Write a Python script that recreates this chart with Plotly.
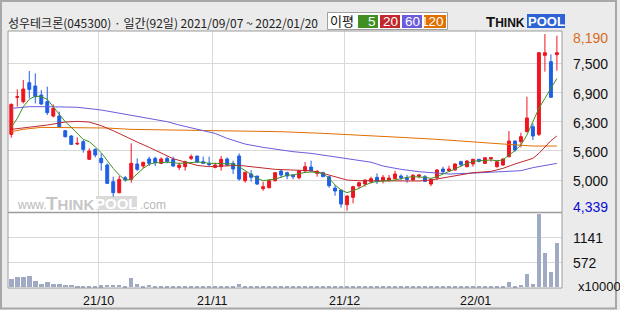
import plotly.graph_objects as go

# ---------------- data ----------------
opens = [5980,6772,6679,7085,7014,6822,6679,6372,6372,6059,
         5945,5774,5823,5446,5659,5467,5324,4968,4733,5053,
         5018,5346,5303,5453,5467,5360,5467,5446,5274,5289,
         5467,5517,5396,5360,5274,5289,5453,5360,5517,4989,
         5132,5089,4818,4839,4989,5196,5160,5110,5053,5196,
         5282,5146,5160,5075,4832,4790,4476,4633,4875,4918,
         4968,5061,4989,4989,5032,5089,5046,5004,5082,5075,
         4918,5054,5239,5203,5218,5396,5289,5346,5446,5360,
         5460,5289,5325,5503,5838,5824,6038,6144,5980,7670,
         7535,7684]
highs = [6643,6943,7142,7335,7285,6929,7000,6622,6465,6073,
         5966,5916,5859,5681,5681,5574,5360,5075,5089,5089,
         5788,5467,5396,5503,5503,5488,5503,5503,5374,5417,
         5552,5517,5503,5503,5374,5517,5488,5417,5574,5182,
         5217,5089,4968,5018,5175,5232,5182,5125,5217,5388,
         5417,5217,5182,5089,4897,4790,4675,4882,4968,5018,
         5075,5146,5111,5111,5203,5125,5111,5132,5132,5111,
         5032,5239,5289,5310,5360,5417,5431,5460,5453,5481,
         5488,5417,5467,6052,5845,6016,6786,6216,7734,8126,
         7692,8091]
lows = [5909,6572,6643,6750,6643,6608,6394,6344,6130,5916,
        5752,5752,5588,5431,5488,5203,4918,4647,4718,4968,
        4946,5196,5253,5303,5303,5346,5360,5289,5217,5203,
        5431,5374,5346,5303,5253,5203,5303,5132,4989,4946,
        4968,4897,4775,4825,4975,5061,5018,5018,5018,5182,
        5182,5075,5075,4839,4668,4412,4347,4504,4825,4861,
        4932,4918,4932,4989,5018,5004,4947,4989,5039,4968,
        4875,5004,5146,5182,5203,5289,5275,5289,5381,5346,
        5396,5268,5310,5489,5610,5702,6023,5859,5945,7321,
        6772,7342]
closes = [6622,6786,6950,6943,6786,6629,6444,6536,6144,5930,
          5766,5788,5659,5624,5538,5374,4932,4733,5018,5003,
          5360,5232,5381,5360,5374,5453,5396,5303,5324,5396,
          5503,5388,5360,5331,5324,5446,5324,5239,5025,5167,
          5061,4918,4861,4989,5160,5110,5089,5075,5203,5289,
          5196,5189,5075,4882,4768,4490,4661,4861,4946,5003,
          5032,4968,5061,5046,5132,5054,5018,5104,5111,4975,
          5018,5218,5182,5239,5346,5332,5410,5446,5403,5481,
          5481,5396,5453,5838,5645,5931,6330,5945,7727,7727,
          6772,7727]
volumes = [190,229,229,258,144,75,121,75,75,53,
           53,25,25,25,25,45,53,53,53,25,
           213,75,25,53,25,25,25,25,25,25,
           25,25,25,25,25,25,25,25,75,25,
           25,25,25,25,25,25,25,25,25,25,
           25,25,25,25,25,25,25,25,25,25,
           25,25,25,25,25,25,25,25,25,25,
           25,25,25,25,25,25,25,25,25,25,
           25,25,25,129,25,53,304,75,1675,791,
           357,1019]
day_index = list(range(len(opens)))

ma5 = [6130,6322,6572,6729,6800,6786,6729,6572,6415,6251,
       6130,6002,5873,5823,5716,5588,5417,5253,5110,5003,
       5018,5146,5253,5339,5374,5374,5388,5374,5360,5367,
       5381,5388,5381,5360,5360,5360,5360,5346,5289,5203,
       5110,5039,4989,5003,5025,5061,5110,5110,5146,5167,
       5175,5167,5146,5039,4897,4790,4733,4775,4825,4897,
       4946,4975,4975,4989,5004,5039,5061,5075,5075,5061,
       5039,5075,5132,5182,5239,5303,5360,5403,5417,5431,
       5431,5417,5431,5538,5631,5752,5966,6251,6537,6750,
       6964,7178]
ma20_x = [0,3,6,9,11,13,15,17,19,21,23,25,27,29,31,33,36,38,40,42,44,47,50,52,54,56,58,61,62,65,68,70,72,74,77,80,82,84,86,87,88,89,90,91]
ma20 = [6087,6130,6180,6244,6258,6244,6166,6059,5930,5816,5702,5574,5460,5388,5317,5289,5303,5317,5289,5260,5232,5217,5203,5146,5075,5003,4989,4989,4996,4989,4982,5004,5046,5104,5160,5189,5253,5346,5417,5467,5574,5717,5845,5945]
ma60_x = [0,3,6,9,11,15,20,26,28,31,34,36,39,42,45,47,50,53,56,58,60,62,65,68,71,73,76,79,82,85,87,89,91]
ma60 = [6536,6572,6572,6572,6560,6501,6394,6251,6180,6094,6000,5895,5773,5702,5645,5610,5574,5517,5467,5417,5385,5303,5232,5182,5146,5132,5146,5168,5182,5203,5268,5310,5360]
ma120_x = [0,2,5,15,16,20,26,31,38,45,52,56,61,65,71,76,82,87,91]
ma120 = [6037,6087,6130,6130,6116,6087,6073,6073,6059,6037,6002,5980,5945,5916,5874,5824,5774,5731,5731]

price_grid = [5000, 5625, 6250, 6875, 7500]
price_grid_labels = ["5,000", "5,600", "6,300", "6,900", "7,500"]
price_max_label = "8,190"
price_min_label = "4,339"
vol_grid = [572, 1141]
vol_grid_labels = ["1141", "572"]
month_start = [15, 34, 56, 78]
month_labels = ["21/10", "21/11", "21/12", "22/01"]
title_text = "성우테크론(045300) · 일간(92일) 2021/09/07 ~ 2022/01/20"

# ---------------- style ----------------
RED = "#f0141e"
BLUE = "#1e5fe6"
C5, C20, C60, C120 = "#3f8f22", "#c0282c", "#6a5cdc", "#e07000"
NUM_FONT = "Liberation Sans, Arial, sans-serif"
NARROW = "Liberation Sans Narrow, Arial Narrow, Liberation Sans, sans-serif"
KR_FONT = "Noto Sans CJK KR, sans-serif"

L, R, T, B = 8, 58, 31, 22
W, H = 620, 310
PW, PH = W - L - R, H - T - B


def PX(px):
    return (px - L) / PW


def PY(py):
    return (H - B - py) / PH


fig = go.Figure()

fig.add_trace(go.Bar(
    x=day_index, y=volumes, yaxis="y2", xaxis="x",
    marker=dict(color="#a0aac2", line=dict(width=0)),
    width=0.75, hoverinfo="skip", showlegend=False))

for xs, ys, c in [(ma120_x, ma120, C120), (ma60_x, ma60, C60),
                  (ma20_x, ma20, C20), (day_index, ma5, C5)]:
    fig.add_trace(go.Scatter(x=xs, y=ys, mode="lines", yaxis="y",
                             line=dict(color=c, width=1),
                             hoverinfo="skip", showlegend=False))

fig.add_trace(go.Candlestick(
    x=day_index, open=opens, high=highs, low=lows, close=closes,
    yaxis="y", xaxis="x",
    increasing=dict(line=dict(color=RED, width=1), fillcolor=RED),
    decreasing=dict(line=dict(color=BLUE, width=1), fillcolor=BLUE),
    whiskerwidth=0, showlegend=False, hoverinfo="skip"))

shapes = []
shapes.append(dict(type="rect", xref="paper", yref="paper",
                   x0=PX(1), x1=PX(616), y0=PY(308.5), y1=PY(1),
                   line=dict(color="#a8a8a8", width=2), layer="above"))
shapes.append(dict(type="rect", xref="paper", yref="paper", x0=0, x1=1, y0=0, y1=1,
                   line=dict(color="#9c9c9c", width=1), layer="above"))
shapes.append(dict(type="line", xref="paper", yref="paper", x0=0, x1=1,
                   y0=PY(212.5), y1=PY(212.5),
                   line=dict(color="#9c9c9c", width=1.5), layer="above"))
shapes.append(dict(type="rect", xref="paper", yref="paper",
                   x0=PX(327.5), x1=PX(447.5), y0=PY(29.5), y1=PY(12.5),
                   line=dict(color="#a0a0a0", width=1), fillcolor="white", layer="above"))
legend_items = [("5", C5, 358, 378), ("20", C20, 380, 400),
                ("60", C60, 402, 422), ("120", C120, 424, 446)]
for _, c, a, b in legend_items:
    shapes.append(dict(type="rect", xref="paper", yref="paper",
                       x0=PX(a), x1=PX(b), y0=PY(28), y1=PY(15),
                       line=dict(width=0), fillcolor=c, layer="above"))
shapes.append(dict(type="rect", xref="paper", yref="paper",
                   x0=PX(527), x1=PX(565), y0=PY(28), y1=PY(14),
                   line=dict(width=0), fillcolor="#2e63d8", layer="above"))
shapes.append(dict(type="rect", xref="paper", yref="paper",
                   x0=PX(96), x1=PX(137), y0=PY(210), y1=PY(196),
                   line=dict(width=0), fillcolor="#dadada", layer="below"))

ann = []
ann.append(dict(text=title_text, xref="paper", yref="paper", x=PX(6), y=PY(22.5),
                xanchor="left", yanchor="middle", showarrow=False,
                font=dict(family=KR_FONT, size=12, color="#222")))
ann.append(dict(text="이평", xref="paper", yref="paper", x=PX(342), y=PY(21),
                xanchor="center", yanchor="middle", showarrow=False,
                font=dict(family=KR_FONT, size=13, color="#111")))
for t, c, a, b in legend_items:
    ann.append(dict(text=t, xref="paper", yref="paper", x=PX(b - 0.5), y=PY(21.5),
                    xanchor="right", yanchor="middle", showarrow=False,
                    font=dict(family=NARROW, size=13.5, color="white")))
ann.append(dict(text="<b>T</b><b><span style='font-size:12px'>HINK</span></b>",
                xref="paper", yref="paper", x=PX(527), y=PY(21.5),
                xanchor="right", yanchor="middle", showarrow=False,
                font=dict(family=NUM_FONT, size=15, color="#111")))
ann.append(dict(text="<b>POOL</b>", xref="paper", yref="paper", x=PX(546), y=PY(21.5),
                xanchor="center", yanchor="middle", showarrow=False,
                font=dict(family=NUM_FONT, size=13, color="white")))
ann.append(dict(text="www.", xref="paper", yref="paper", x=PX(49), y=PY(205),
                xanchor="right", yanchor="middle", showarrow=False,
                font=dict(family=NUM_FONT, size=12, color="#b8b8b8")))
ann.append(dict(text="<b>T</b><b><span style='font-size:15px'>HINK</span></b>",
                xref="paper", yref="paper", x=PX(96), y=PY(203.5),
                xanchor="right", yanchor="middle", showarrow=False,
                font=dict(family=NUM_FONT, size=19, color="#c6c6c6")))
ann.append(dict(text="<b>POOL</b>", xref="paper", yref="paper", x=PX(116.5), y=PY(203.5),
                xanchor="center", yanchor="middle", showarrow=False,
                font=dict(family=NUM_FONT, size=15, color="white")))
ann.append(dict(text=".com", xref="paper", yref="paper", x=PX(138), y=PY(205),
                xanchor="left", yanchor="middle", showarrow=False,
                font=dict(family=NUM_FONT, size=12, color="#b8b8b8")))

for v, t in zip(price_grid, price_grid_labels):
    ann.append(dict(text=t, xref="paper", yref="y", x=1, y=v, xshift=9, yshift=-1,
                    xanchor="left", yanchor="middle", showarrow=False,
                    font=dict(family=NARROW, size=14, color="#111")))
ann.append(dict(text=price_max_label, xref="paper", yref="y", x=1, y=max(highs),
                xshift=9, yshift=-4, xanchor="left", yanchor="middle", showarrow=False,
                font=dict(family=NARROW, size=14, color="#d86c1c")))
ann.append(dict(text=price_min_label, xref="paper", yref="y", x=1, y=min(lows),
                xshift=9, yshift=4, xanchor="left", yanchor="middle", showarrow=False,
                font=dict(family=NARROW, size=14, color="#0a0ad8")))
for v, t in zip(sorted(vol_grid, reverse=True), vol_grid_labels):
    ann.append(dict(text=t, xref="paper", yref="y2", x=1, y=v, xshift=9, yshift=-1,
                    xanchor="left", yanchor="middle", showarrow=False,
                    font=dict(family=NARROW, size=14, color="#111")))
ann.append(dict(text="x10000", xref="paper", yref="paper", x=PX(576), y=PY(286),
                xanchor="left", yanchor="middle", showarrow=False,
                font=dict(family=NARROW, size=13, color="#111")))
for m, t in zip(month_start, month_labels):
    ann.append(dict(text=t, xref="x", yref="paper", x=m - 0.5, y=PY(300.5),
                    xanchor="center", yanchor="middle", showarrow=False,
                    font=dict(family=NUM_FONT, size=12.5, color="#111")))

GRID = "#d9d9d9"
fig.update_layout(
    width=W, height=H,
    margin=dict(l=L, r=R, t=T, b=B, pad=0, autoexpand=False),
    paper_bgcolor="#ebebeb", plot_bgcolor="white",
    showlegend=False, bargap=0, boxgap=0.3,
    shapes=shapes, annotations=ann,
    xaxis=dict(range=[-0.55, 91.85], anchor="y2", domain=[0, 1], automargin=False,
               tickvals=[m - 0.5 for m in month_start], showticklabels=False,
               showgrid=True, gridcolor=GRID, gridwidth=1, zeroline=False,
               ticks="", showline=False, rangeslider=dict(visible=False),
               fixedrange=True),
    yaxis=dict(domain=[PY(212.5), 1], range=[4309, 8191], anchor="x", automargin=False,
               tickvals=price_grid, showticklabels=False, showgrid=True,
               gridcolor=GRID, gridwidth=1, zeroline=False, fixedrange=True),
    yaxis2=dict(domain=[0, PY(213)], range=[-20, 1700], anchor="x", automargin=False,
                tickvals=vol_grid, showticklabels=False, showgrid=True,
                gridcolor=GRID, gridwidth=1, zeroline=False, fixedrange=True),
)

fig.write_html("out.html")
